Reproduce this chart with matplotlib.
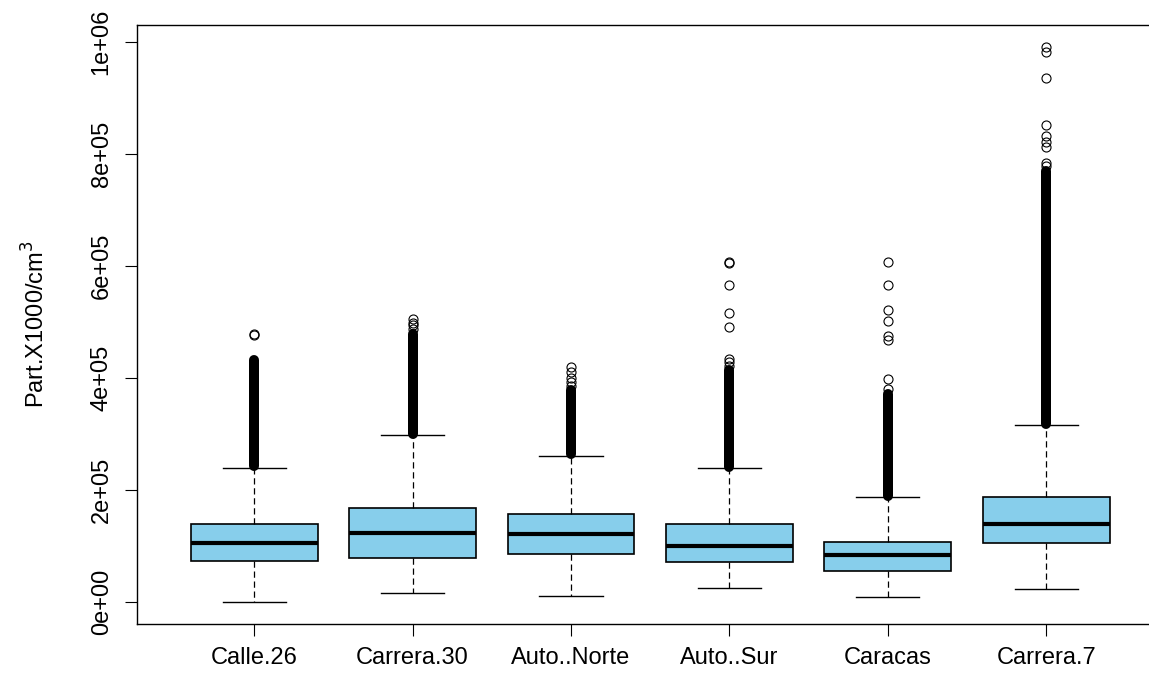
import numpy as np
import matplotlib.pyplot as plt
from matplotlib.ticker import FixedLocator, FixedFormatter

plt.rcParams['font.family'] = ['Liberation Sans', 'DejaVu Sans']

# Estaciones y resumen de cada caja (Part. x1000/cm3)
sitios = ["Calle.26", "Carrera.30", "Auto..Norte", "Auto..Sur", "Caracas", "Carrera.7"]
q1 = [73700, 79100, 85200, 70900, 55900, 105400]
mediana = [104800, 122700, 122000, 99500, 83400, 139300]
q3 = [139300, 167300, 156600, 139300, 107700, 187500]
bigote_inf = [0, 16600, 11300, 25500, 8400, 23800]
bigote_sup = [239300, 297700, 261300, 238700, 187000, 315500]

# tramos donde los atipicos se amontonan en una columna continua
denso_ini = [243000, 300000, 264000, 241000, 189000, 318000]
denso_fin = [432000, 478000, 378000, 415000, 372000, 770000]

# atipicos sueltos por encima de cada columna
atipicos = [
    [476800, 478000],
    [488000, 494000, 499000, 505000],
    [386000, 393000, 400000, 410000, 420000],
    [422000, 428000, 434000, 491600, 516600, 566000, 605000, 608000],
    [380000, 397700, 467900, 475000, 501200, 521400, 566000, 607700],
    [778000, 784000, 812000, 822000, 832100, 851800, 935100, 982700, 991600],
]

yticks = [0, 200000, 400000, 600000, 800000, 1000000]
ytick_labels = ["0e+00", "2e+05", "4e+05", "6e+05", "8e+05", "1e+06"]

n = len(sitios)
pos = np.arange(1, n + 1)
fs = 17

fig = plt.figure(figsize=(11.49, 6.86), dpi=100)
ax = fig.add_axes([137 / 1149, 61.8 / 686, 1026.4 / 1149, 599.6 / 686])

stats = []
for i in range(n):
    stats.append(dict(med=mediana[i], q1=q1[i], q3=q3[i],
                      whislo=bigote_inf[i], whishi=bigote_sup[i],
                      fliers=atipicos[i]))

ax.bxp(stats, positions=pos, widths=0.8, capwidths=0.4, patch_artist=True,
       showfliers=True,
       boxprops=dict(facecolor="#87CEEB", edgecolor="black", linewidth=1.2),
       medianprops=dict(color="black", linewidth=3.0, solid_capstyle="butt"),
       whiskerprops=dict(color="black", linewidth=0.9, linestyle=(0, (5, 3))),
       capprops=dict(color="black", linewidth=1.0),
       flierprops=dict(marker="o", markersize=6.5, markerfacecolor="none",
                       markeredgecolor="black", markeredgewidth=0.8))

ax.vlines(pos, denso_ini, denso_fin, colors="black", linewidth=7.2,
          capstyle="round", zorder=3)

# limites como en R: rango de datos ampliado un 4%
ymax = max(max(a) for a in atipicos)
ymin = min(bigote_inf)
ext = 0.04 * (ymax - ymin)
ax.set_ylim(ymin - ext, ymax + ext)
ax.set_xlim(0.5 - 0.04 * n, n + 0.5 + 0.04 * n)

ax.yaxis.set_major_locator(FixedLocator(yticks))
ax.yaxis.set_major_formatter(FixedFormatter(ytick_labels))
ax.set_xticks(pos)
ax.set_xticklabels(sitios)
ax.tick_params(axis="y", length=8.5, width=0.8, pad=9, labelsize=fs,
               labelrotation=90)
ax.tick_params(axis="x", length=8.5, width=0.8, pad=8, labelsize=fs)
for lab in ax.get_yticklabels():
    lab.set_verticalalignment("center")

for s in ax.spines.values():
    s.set_linewidth(1.0)

ax.set_ylabel("Part.X1000/cm$^3$", fontsize=fs)
ax.yaxis.set_label_coords(-0.085, 0.5)

fig.savefig("out.png", dpi=100)
